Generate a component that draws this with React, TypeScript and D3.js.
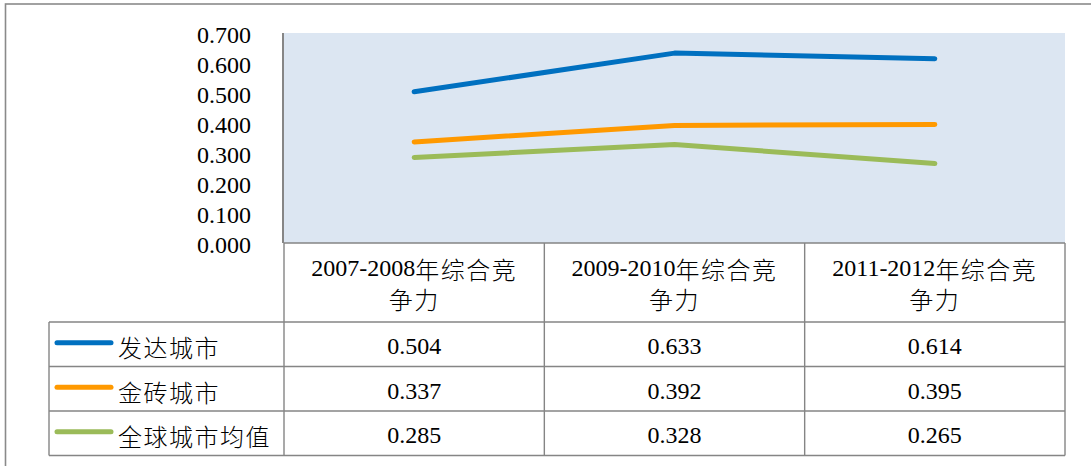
import React from 'react'
import * as d3 from 'd3'

// chart data
const categories = ['2007-2008年综合竞争力', '2009-2010年综合竞争力', '2011-2012年综合竞争力']
const seriesNames = ['发达城市', '金砖城市', '全球城市均值']
const developed = [0.504, 0.633, 0.614]
const brics = [0.337, 0.392, 0.395]
const globalAvg = [0.285, 0.328, 0.265]
const seriesColors = ['#0070C0', '#FF9900', '#9BBB59']
const yDomain: [number, number] = [0, 0.7]

const W = 1091
const H = 466
const plot = { left: 284, right: 1065, top: 33, bottom: 243 }
const rowLines = [322, 366.5, 411, 455.5]
const legendLeft = 49
const gridColor = '#858585'
const serif =
  "'Liberation Serif', 'Times New Roman', Times, 'Nimbus Roman', 'Noto Serif', 'DejaVu Serif', FreeSerif, serif"
const cjk = "'Noto Sans CJK SC', 'Noto Sans', sans-serif"

// split a label into ascii / cjk runs so each gets its own font
const runs = (s: string) => {
  const out: { t: string; cjk: boolean }[] = []
  for (const ch of s) {
    const isCjk = ch.charCodeAt(0) > 0x2e80
    const last = out[out.length - 1]
    if (last && last.cjk === isCjk) last.t += ch
    else out.push({ t: ch, cjk: isCjk })
  }
  return out
}

const MixedText = ({ text, ...rest }: { text: string } & React.SVGProps<SVGTextElement>) => (
  <text {...rest}>
    {runs(text).map((r, i) => (
      <tspan
        key={i}
        style={{
          fontFamily: r.cjk ? cjk : serif,
          fontWeight: r.cjk ? 300 : 400,
          letterSpacing: r.cjk ? 1.5 : 0
        }}
      >
        {r.t}
      </tspan>
    ))}
  </text>
)

export default function App() {
  const series = [developed, brics, globalAvg]

  const x = d3.scaleBand<string>().domain(categories).range([plot.left, plot.right]).padding(0)
  const y = d3.scaleLinear().domain(yDomain).range([plot.bottom, plot.top])
  const cx = (c: string) => (x(c) ?? 0) + x.bandwidth() / 2
  const fmt = d3.format('.3f')
  const yTicks = y.ticks(7)

  const line = d3
    .line<number>()
    .x((_, i) => cx(categories[i]))
    .y(d => y(d))

  const rowMid = (i: number) => (rowLines[i] + rowLines[i + 1]) / 2

  return (
    <svg
      width={W}
      height={H}
      style={{ position: 'absolute', left: 0, top: 0, background: '#fff', fontFamily: serif }}
    >
      {/* outer frame, runs past the right and bottom edges */}
      <rect x={5.5} y={4} width={2000} height={2000} fill="none" stroke="#8a8a8a" strokeWidth={1.6} />

      {/* plot area */}
      <rect
        x={plot.left}
        y={plot.top}
        width={plot.right - plot.left}
        height={plot.bottom - plot.top}
        fill="#DCE6F2"
      />
      <line x1={283} x2={283} y1={plot.top} y2={plot.bottom} stroke="#868686" strokeWidth={2} />

      {/* y ticks */}
      {yTicks.map(t => (
        <text
          key={t}
          x={251}
          y={y(t) + 1.5}
          textAnchor="end"
          dominantBaseline="central"
          style={{ fontFamily: serif }}
          fontSize={24}
          fill="#000"
        >
          {fmt(t)}
        </text>
      ))}

      {/* series lines */}
      {series.map((vals, i) => (
        <path
          key={seriesNames[i]}
          d={line(vals) ?? ''}
          fill="none"
          stroke={seriesColors[i]}
          strokeWidth={5}
          strokeLinecap="round"
          strokeLinejoin="round"
        />
      ))}

      {/* data table grid */}
      <g stroke={gridColor} strokeWidth={1.4}>
        <line x1={plot.left} x2={plot.right} y1={plot.bottom} y2={plot.bottom} />
        {rowLines.map(r => (
          <line key={r} x1={legendLeft} x2={plot.right} y1={r} y2={r} />
        ))}
        <line x1={legendLeft} x2={legendLeft} y1={rowLines[0]} y2={rowLines[3]} />
        {categories.map(c => (
          <line key={c} x1={x(c)} x2={x(c)} y1={plot.bottom} y2={rowLines[3]} />
        ))}
        <line x1={plot.right} x2={plot.right} y1={plot.bottom} y2={rowLines[3]} />
      </g>

      {/* header labels */}
      {categories.map(c => {
        const l1 = c.slice(0, c.length - 2)
        const l2 = c.slice(c.length - 2)
        return (
          <g key={c}>
            <MixedText text={l1} x={cx(c)} y={268} textAnchor="middle" dominantBaseline="central" fontSize={24} fill="#000" />
            <MixedText text={l2} x={cx(c)} y={298} textAnchor="middle" dominantBaseline="central" fontSize={24} fill="#000" />
          </g>
        )
      })}

      {/* legend keys + values */}
      {series.map((vals, i) => (
        <g key={seriesNames[i]}>
          <line
            x1={57}
            x2={111}
            y1={rowMid(i) - 1.5}
            y2={rowMid(i) - 1.5}
            stroke={seriesColors[i]}
            strokeWidth={5}
            strokeLinecap="round"
          />
          <MixedText text={seriesNames[i]} x={118} y={rowMid(i) + 2} dominantBaseline="central" fontSize={24} fill="#000" />
          {vals.map((v, j) => (
            <text
              key={j}
              x={cx(categories[j])}
              y={rowMid(i) + 2}
              textAnchor="middle"
              dominantBaseline="central"
              style={{ fontFamily: serif }}
              fontSize={24}
              fill="#000"
            >
              {fmt(v)}
            </text>
          ))}
        </g>
      ))}
    </svg>
  )
}
